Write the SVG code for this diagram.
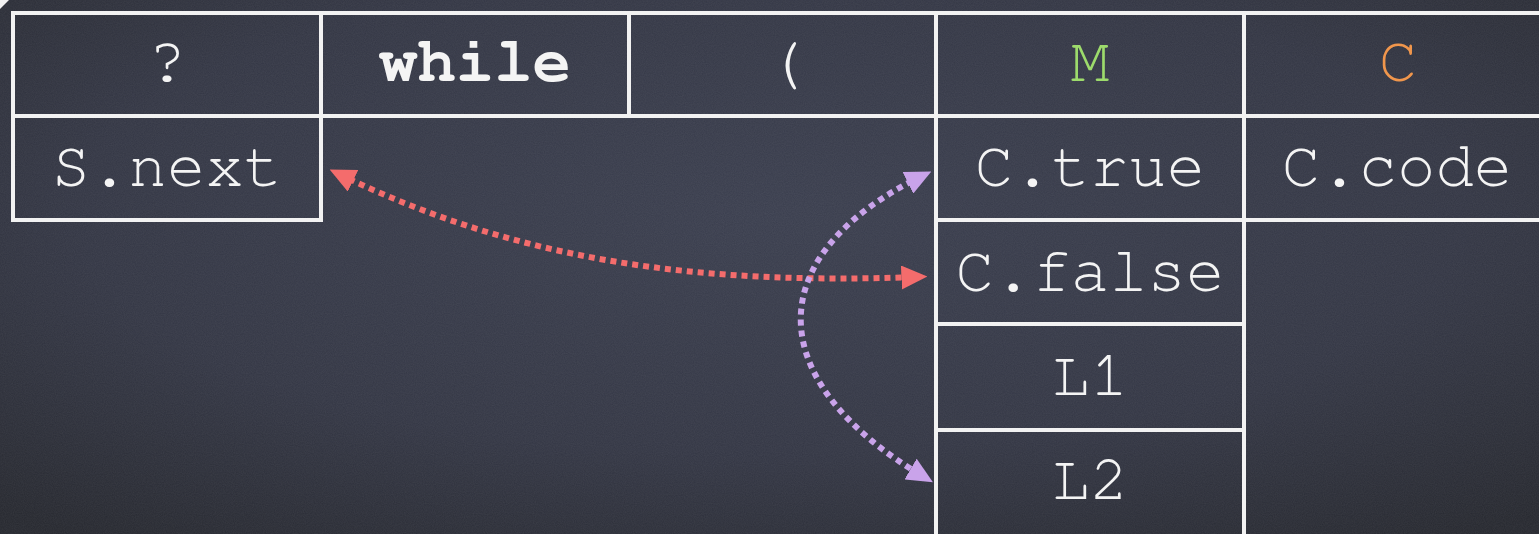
<svg xmlns="http://www.w3.org/2000/svg" width="1539" height="534" viewBox="0 0 1539 534">
<defs>
<radialGradient id="bg" cx="50%" cy="40%" r="75%">
<stop offset="0" stop-color="#3a3e4e"/>
<stop offset="0.6" stop-color="#333644"/>
<stop offset="1" stop-color="#26282f"/>
</radialGradient>
<filter id="noise" x="0" y="0" width="100%" height="100%">
<feTurbulence type="fractalNoise" baseFrequency="0.9" numOctaves="2" seed="3"/>
<feColorMatrix type="matrix" values="0 0 0 0 1  0 0 0 0 1  0 0 0 0 1  0 0 0 0.07 0"/>
</filter>
<marker id="hr" viewBox="0 0 10 10" refX="6" refY="5" markerWidth="26" markerHeight="24" markerUnits="userSpaceOnUse" orient="auto-start-reverse" preserveAspectRatio="none">
<path d="M0,0 L10,5 L0,10 z" fill="#f46c6c"/>
</marker>
<marker id="hp" viewBox="0 0 10 10" refX="6" refY="5" markerWidth="26" markerHeight="24" markerUnits="userSpaceOnUse" orient="auto-start-reverse" preserveAspectRatio="none">
<path d="M0,0 L10,5 L0,10 z" fill="#c9a3ea"/>
</marker>
</defs>
<style>
.cell{fill:none;stroke:#f2f2f2;stroke-width:4}
.t{font-family:"Nimbus Mono PS","FreeMono","Courier New","Liberation Mono",monospace;font-size:64px;fill:#f4f4f4;text-anchor:middle}
.b{font-weight:bold}
.link{fill:none;stroke-width:6;stroke-dasharray:6 5}
</style>
<rect width="1539" height="534" fill="url(#bg)"/>
<rect width="1539" height="534" filter="url(#noise)"/>
<path d="M0,0 L9,0 L0,9 z" fill="#f2f2f2"/>

<g id="cell-q"><rect class="cell" x="13" y="13" width="308" height="103"/><text class="t" x="167" y="81">?</text></g>
<g id="cell-while"><rect class="cell" x="321" y="13" width="308" height="103"/><text class="t b" x="475" y="81">while</text></g>
<g id="cell-paren"><rect class="cell" x="629" y="13" width="307" height="103"/><text class="t" x="786" y="81">(</text></g>
<g id="cell-M"><rect class="cell" x="936" y="13" width="308" height="103"/><text class="t" x="1090" y="81" style="fill:#9ddb6c">M</text></g>
<g id="cell-C"><rect class="cell" x="1244" y="13" width="310" height="103"/><text class="t" x="1398" y="81" style="fill:#f0964c">C</text></g>
<g id="cell-snext"><rect class="cell" x="13" y="116" width="308" height="104"/><text class="t" x="167" y="186">S.next</text></g>
<g id="cell-ctrue"><rect class="cell" x="936" y="116" width="308" height="104"/><text class="t" x="1090" y="186">C.true</text></g>
<g id="cell-ccode"><rect class="cell" x="1244" y="116" width="310" height="104"/><text class="t" x="1397" y="186">C.code</text></g>
<g id="cell-cfalse"><rect class="cell" x="936" y="220" width="308" height="104"/><text class="t" x="1090" y="291">C.false</text></g>
<g id="cell-L1"><rect class="cell" x="936" y="324" width="308" height="106"/><text class="t" x="1090" y="395">L1</text></g>
<g id="cell-L2"><rect class="cell" x="936" y="430" width="308" height="120"/><text class="t" x="1090" y="499">L2</text></g>

<g id="connectors">
<path class="link" stroke="#f46c6c" marker-start="url(#hr)" marker-end="url(#hr)" d="M339,174 C520,262 700,285 917,277"/>
<path class="link" stroke="#c9a3ea" marker-start="url(#hp)" marker-end="url(#hp)" d="M922,176 C760,255 760,380 924,477"/>
</g>
</svg>
